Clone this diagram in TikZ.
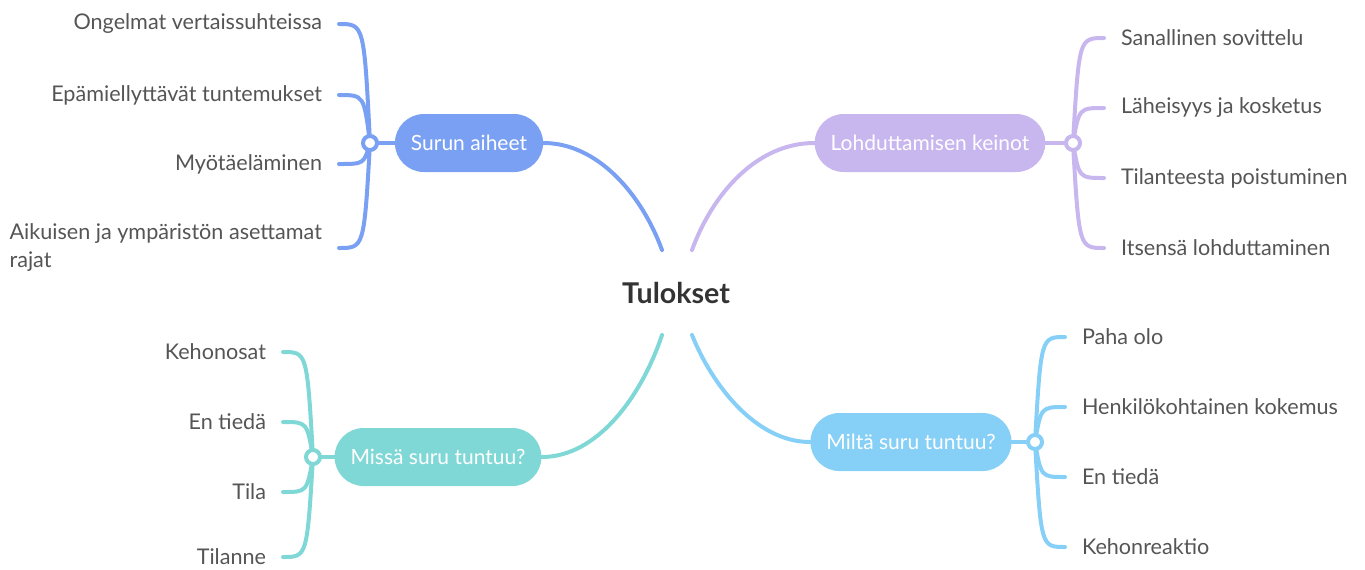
\documentclass[tikz,border=0pt]{standalone}
\usepackage{fontspec}
\setmainfont{Lato}
\usepackage{tikz}

\definecolor{surun}{RGB}{121,160,242}
\definecolor{lohd}{RGB}{200,182,239}
\definecolor{missa}{RGB}{127,216,214}
\definecolor{milta}{RGB}{134,207,247}
\definecolor{leafgray}{RGB}{85,85,85}

\begin{document}
\begin{tikzpicture}[x=0.5pt, y=-0.5pt,
  topic/.style={fill=#1, text=white, rounded corners=14.5pt, minimum height=29pt, inner xsep=8pt, font=\fontsize{10.5}{12}\selectfont},
  leaf/.style={text=leafgray, inner ysep=0pt, inner xsep=0pt, outer xsep=8.5pt, font=\fontsize{10.8}{14}\selectfont},
  branch/.style={draw=#1, line width=2pt, line cap=round},
  hub/.style={circle, draw=#1, fill=white, line width=2pt, minimum size=7pt, inner sep=0pt}]

\useasboundingbox (0,0) rectangle (1365,569);

% centre
\node[text=black!80, font=\bfseries\fontsize{14.3}{16}\selectfont] (tulokset) at (676,293) {Tulokset};
\coordinate (r nw) at (662,250);
\coordinate (r ne) at (692,250);
\coordinate (r sw) at (662,335);
\coordinate (r se) at (692,335);

% topics
\node[topic=surun] (surun) at (469,143) {Surun aiheet};
\node[topic=lohd] (lohd) at (930,143) {Lohduttamisen keinot};
\node[topic=missa] (missa) at (438,457) {Missä suru tuntuu?};
\node[topic=milta] (milta) at (911,442) {Miltä suru tuntuu?};

\draw[branch=surun] (surun.east) .. controls (598,143) and (642,195) .. (r nw);
\draw[branch=lohd] (lohd.west) .. controls (756,143) and (712,195) .. (r ne);
\draw[branch=missa] (missa.east) .. controls (598,457) and (642,395) .. (r sw);
\draw[branch=milta] (milta.west) .. controls (756,442) and (712,385) .. (r se);

% Surun aiheet
\node[leaf, anchor=east] (ongelmat) at (339,24) {Ongelmat vertaissuhteissa};
\node[leaf, anchor=east] (epamiel) at (339,95) {Epämiellyttävät tuntemukset};
\node[leaf, anchor=east] (myota) at (339,164) {Myötäeläminen};
\node[leaf, anchor=east, align=left] (aikuisen) at (339,248) {Aikuisen ja ympäristön asettamat\\rajat};
\coordinate (surun c) at (370,143);
\foreach \n/\y in {ongelmat/24, epamiel/95, myota/164, aikuisen/248}
  \draw[branch=surun] (surun c) .. controls (364,\y) and (364,\y) .. (\n.east);
\draw[branch=surun] (surun c) -- (surun.west);
\node[hub=surun] (surun hub) at (surun c) {};

% Lohduttamisen keinot
\node[leaf, anchor=west] (sanallinen) at (1104,38) {Sanallinen sovittelu};
\node[leaf, anchor=west] (laheisyys) at (1104,108) {Läheisyys ja kosketus};
\node[leaf, anchor=west] (tilanteesta) at (1104,178) {Tilanteesta poistuminen};
\node[leaf, anchor=west] (itsensa) at (1104,248) {Itsensä lohduttaminen};
\coordinate (lohd c) at (1073,143);
\foreach \n/\y in {sanallinen/38, laheisyys/108, tilanteesta/178, itsensa/248}
  \draw[branch=lohd] (lohd c) .. controls (1079,\y) and (1079,\y) .. (\n.west);
\draw[branch=lohd] (lohd c) -- (lohd.east);
\node[hub=lohd] (lohd hub) at (lohd c) {};

% Missä suru tuntuu?
\node[leaf, anchor=east] (kehonosat) at (283,352) {Kehonosat};
\node[leaf, anchor=east] (entieda1) at (283,422) {En tiedä};
\node[leaf, anchor=east] (tila) at (283,492) {Tila};
\node[leaf, anchor=east] (tilanne) at (283,557) {Tilanne};
\coordinate (missa c) at (313,457);
\foreach \n/\y in {kehonosat/352, entieda1/422, tila/492, tilanne/557}
  \draw[branch=missa] (missa c) .. controls (307,\y) and (307,\y) .. (\n.east);
\draw[branch=missa] (missa c) -- (missa.west);
\node[hub=missa] (missa hub) at (missa c) {};

% Miltä suru tuntuu?
\node[leaf, anchor=west] (paha) at (1065,337) {Paha olo};
\node[leaf, anchor=west] (henkilo) at (1065,407) {Henkilökohtainen kokemus};
\node[leaf, anchor=west] (entieda2) at (1065,477) {En tiedä};
\node[leaf, anchor=west] (kehonreaktio) at (1065,547) {Kehonreaktio};
\coordinate (milta c) at (1035,442);
\foreach \n/\y in {paha/337, henkilo/407, entieda2/477, kehonreaktio/547}
  \draw[branch=milta] (milta c) .. controls (1041,\y) and (1041,\y) .. (\n.west);
\draw[branch=milta] (milta c) -- (milta.east);
\node[hub=milta] (milta hub) at (milta c) {};
\end{tikzpicture}
\end{document}
